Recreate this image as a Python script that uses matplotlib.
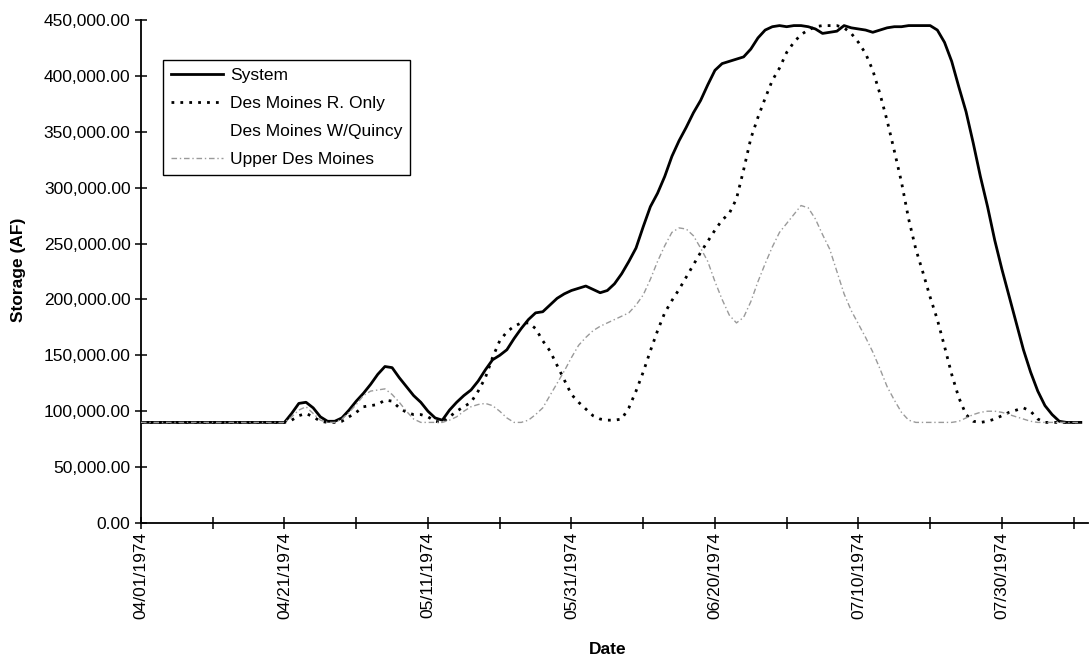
import matplotlib
matplotlib.use("Agg")
import matplotlib.pyplot as plt
from matplotlib.lines import Line2D
import numpy as np
import pandas as pd

plt.rcParams['font.family'] = ['Liberation Sans', 'DejaVu Sans']

# Storage in thousands of acre-feet, daily from 04/01/1974
system_k = [90]*20 + [
    90, 98, 107, 108, 103, 95, 91, 91, 94, 101,
    109, 116, 124, 133, 140, 139, 130, 122, 114, 108,
    100, 94, 92, 101, 108, 114, 119, 127, 137, 146,
    150, 155, 165, 174, 182, 188, 189, 195, 201, 205,
    208, 210, 212, 209, 206, 208, 214, 223, 234, 246,
    265, 283, 295, 310, 328, 342, 354, 367, 378, 392,
    405, 411, 413, 415, 417, 424, 434, 441, 444, 445,
    444, 445, 445, 444, 442, 438, 439, 440, 445, 443,
    442, 441, 439, 441, 443, 444, 444, 445, 445, 445,
    445, 441, 430, 413, 390, 368, 340, 310, 283, 253,
    227, 203, 179, 155, 135, 118, 105, 97, 91, 90,
    90, 90]

des_moines_only_k = [90]*21 + [
    92, 96, 98, 95, 91, 90, 90, 91, 95,
    99, 104, 105, 106, 110, 109, 103, 99, 97, 97,
    95, 91, 90, 95, 100, 104, 108, 118, 130, 148,
    163, 171, 176, 179, 179, 174, 163, 154, 141, 128,
    115, 108, 102, 96, 93, 92, 92, 93, 103, 118,
    135, 154, 172, 188, 199, 209, 220, 231, 242, 252,
    262, 271, 277, 290, 316, 344, 363, 380, 396, 407,
    421, 430, 437, 441, 444, 445, 445, 445, 443, 438,
    430, 420, 405, 384, 360, 333, 305, 272, 245, 224,
    202, 182, 158, 133, 112, 97, 91, 90, 91, 93,
    96, 99, 101, 103, 100, 93, 90, 90, 90, 90,
    90, 90]

upper_des_moines_k = [90]*21 + [
    95, 101, 104, 98, 92, 90, 90, 93, 99,
    106, 114, 118, 119, 120, 115, 108, 100, 93, 90,
    90, 90, 90, 92, 95, 100, 104, 106, 107, 105,
    100, 94, 90, 90, 92, 97, 103, 114, 125, 136,
    148, 159, 166, 172, 176, 179, 182, 185, 188, 195,
    204, 218, 234, 248, 260, 264, 263, 257, 246, 234,
    216, 200, 186, 179, 184, 198, 216, 232, 247, 260,
    268, 276, 284, 282, 272, 258, 245, 225, 205, 190,
    178, 166, 153, 138, 122, 110, 99, 92, 90, 90,
    90, 90, 90, 90, 91, 94, 97, 99, 100, 100,
    99, 97, 95, 93, 91, 90, 90, 90, 90, 90,
    90, 90]

series_names = ["System", "Des Moines R. Only", "Des Moines W/Quincy", "Upper Des Moines"]
tick_labels = ["04/01/1974", "04/21/1974", "05/11/1974", "05/31/1974",
               "06/20/1974", "07/10/1974", "07/30/1974"]
y_ticks = [0, 50000, 100000, 150000, 200000, 250000, 300000, 350000, 400000, 450000]

days = np.arange(len(system_k))
system = np.array(system_k) * 1000.0
dm_only = np.array(des_moines_only_k) * 1000.0
upper = np.array(upper_des_moines_k) * 1000.0

fig = plt.figure(figsize=(10.91, 6.65), dpi=100)
ax = fig.add_axes([141/1091, (665-523)/665, (1088-141)/1091, (523-20)/665])

ax.plot(days, system, color='black', lw=2.0, solid_joinstyle='round', zorder=3)
ax.plot(days, dm_only, color='black', lw=2.0, linestyle=(0, (1.0, 2.2)), zorder=4)
ax.plot(days, upper, color='#9a9a9a', lw=1.0, linestyle=(0, (4, 2, 1, 2)), zorder=5)

ax.set_xlim(0, 132)
ax.set_ylim(0, 450000)

ax.set_xticks(np.arange(0, 132, 10))
lab_iter = iter(tick_labels)
ax.set_xticklabels([next(lab_iter) if i % 20 == 0 else "" for i in range(0, 132, 10)],
                   rotation=90, fontsize=12.5)
ax.set_yticks(y_ticks)
ax.set_yticklabels([f"{v:,.2f}" for v in y_ticks], fontsize=12.5)

ax.tick_params(axis='both', direction='inout', length=9, width=1.1, color='black')
ax.tick_params(axis='y', pad=3)
ax.tick_params(axis='x', pad=2)

for s in ['top', 'right']:
    ax.spines[s].set_visible(False)
for s in ['left', 'bottom']:
    ax.spines[s].set_linewidth(1.3)

fig.text(19/1091, 1 - 270/665, "Storage (AF)", rotation=90, fontsize=12.5,
         fontweight='bold', ha='center', va='center')
fig.text(608/1091, 1 - 649/665, "Date", fontsize=12.5, fontweight='bold',
         ha='center', va='center')

handles = [
    Line2D([], [], color='black', lw=2.0),
    Line2D([], [], color='black', lw=2.0, linestyle=(0, (1.0, 2.2))),
    Line2D([], [], color='white', lw=1.0),
    Line2D([], [], color='#9a9a9a', lw=1.0, linestyle=(0, (4, 2, 1, 2))),
]
leg = ax.legend(handles, series_names, loc='upper left',
                bbox_to_anchor=((163-141)/947, (523-60)/503),
                fontsize=12.5, frameon=True, fancybox=False, shadow=False,
                edgecolor='black', framealpha=1, handlelength=3.0,
                handletextpad=0.4, labelspacing=0.75, borderpad=0.45,
                borderaxespad=0)
leg.get_frame().set_linewidth(1.0)

fig.savefig("out.png", dpi=100)
